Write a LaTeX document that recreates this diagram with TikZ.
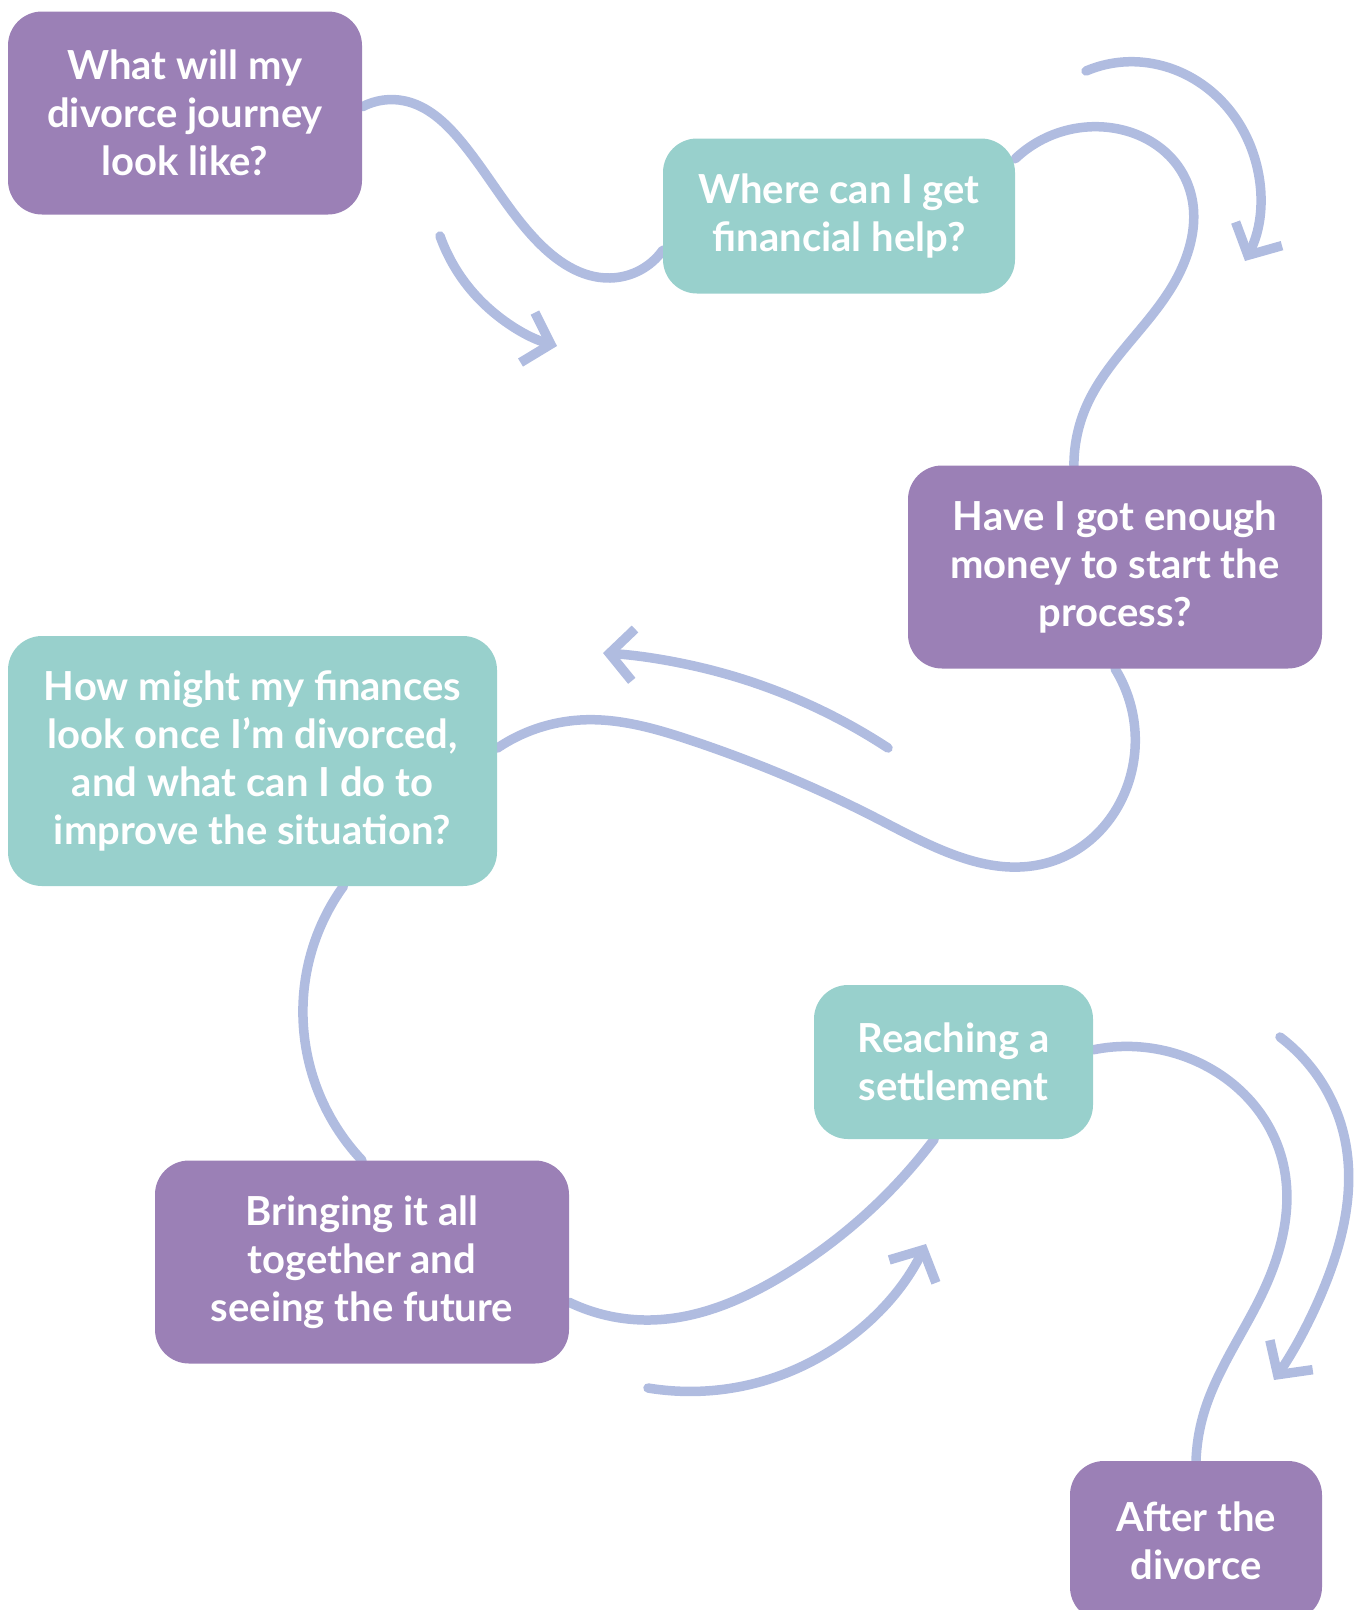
\documentclass[tikz,border=0pt]{standalone}
\usepackage{fontspec}
\setmainfont{Lato}
\usetikzlibrary{arrows.meta,backgrounds,hobby}
\definecolor{boxpurple}{HTML}{9B80B6}
\definecolor{boxteal}{HTML}{98D0CC}
\definecolor{linkblue}{HTML}{B0BCE0}
\begin{document}
\begin{tikzpicture}[x=1pt, y=-1pt, every node/.style={rounded corners=34pt, text=white, align=center, inner sep=0pt, font=\bfseries\fontsize{40}{48}\selectfont}, purplebox/.style={fill=boxpurple}, tealbox/.style={fill=boxteal}, link/.style={draw=linkblue, line width=9.5pt, line cap=round, line join=round, use Hobby shortcut}, arr/.style={link, -{Straight Barb[length=24pt, width=52pt]}}]
	\useasboundingbox (0,0) rectangle (1362,1610);
		\node[purplebox, minimum width=354pt, minimum height=203pt] (b1) at (185,113) {What will my\\divorce journey\\look like?};
		\node[tealbox, minimum width=352pt, minimum height=155pt] (b2) at (839,216) {Where can I get\\financial help?};
		\node[purplebox, minimum width=414pt, minimum height=203pt] (b3) at (1115,567) {Have I got enough\\money to start the\\process?};
		\node[tealbox, minimum width=489pt, minimum height=250pt] (b4) at (252.5,761) {How might my finances\\look once I’m divorced,\\and what can I do to\\improve the situation?};
		\node[tealbox, minimum width=279pt, minimum height=154pt] (b5) at (953.5,1062) {Reaching a\\settlement};
		\node[purplebox, minimum width=414pt, minimum height=203pt] (b6) at (362,1262) {Bringing it all\\together and\\seeing the future};
		\node[purplebox, minimum width=252pt, minimum height=160pt] (b7) at (1196,1541) {After the\\divorce};

		% free ends of the arrows
		\coordinate (a1s) at (440,236);
		\coordinate (a1e) at (557,346);
		\coordinate (a2s) at (1086,71);
		\coordinate (a2e) at (1245,261);
		\coordinate (a3s) at (888,748);
		\coordinate (a3e) at (603,653);
		\coordinate (a5s) at (648,1388);
		\coordinate (a5e) at (926,1244);
		\coordinate (a6s) at (1280,1037);
		\coordinate (a6e) at (1274,1380);

	\begin{scope}[on background layer]
		\draw[link] (b1.2) .. (405,101) .. (460,140) .. (536,240) .. (610,278) .. (b2.191);
		\draw[link] (b2.18) .. (1104,127) .. (1186,180) .. (1173,285) .. (1086,407) .. (b3.112);
		\draw[link] (b3.south) .. (1133,765) .. (1050,862) .. (880,820) .. (690,740) .. (580,720) .. (b4.3);
		\draw[link] (b4.-54) .. (303,1006) .. (b6.north);
		\draw[link] (b6.-11) .. (650,1320) .. (784,1275) .. (b5.256);
		\draw[link] (b5.5) .. (1170,1052) .. (1282,1159) .. (1263,1292) .. (1203,1416) .. (b7.north);
	\end{scope}

		\draw[arr] (a1s) .. (480,300) .. (a1e);
		\draw[arr] (a2s) .. (1140,62) .. (1240,125) .. (a2e);
		\draw[arr] (a3s) .. (711,670) .. (a3e);
		\draw[arr] (a5s) .. (784,1374) .. (a5e);
		\draw[arr] (a6s) .. (1345,1140) .. (1325,1285) .. (a6e);
\end{tikzpicture}
\end{document}
